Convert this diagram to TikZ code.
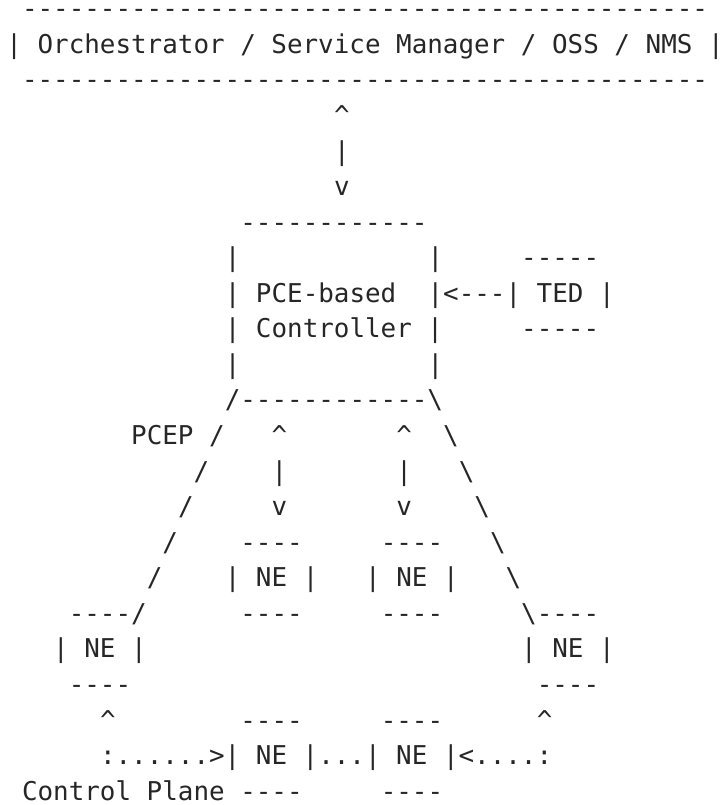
\documentclass[tikz,border=0pt]{standalone}
\usepackage{fontspec}
\setmonofont{DejaVu Sans Mono}
\definecolor{asciigray}{HTML}{262626}

\tikzset{
    asc/.style={anchor=base west, inner sep=0pt, text=asciigray,
        font=\ttfamily\fontsize{25.9}{30}\selectfont}
}
% one piece of the figure: name, column, row, characters
\newcommand{\asc}[4]{%
    \node[asc] (#1) at (#2,#3) {#4};
}
\newcommand{\dashes}[1]{\foreach \i in {1,...,#1}{-}}
\newcommand{\up}{\textasciicircum}
\newcommand{\bs}{\textbackslash}

\begin{document}
\begin{tikzpicture}[x=15.6pt, y=-35.56pt]
    \useasboundingbox (-6.2pt,17.8pt) rectangle (715.8pt,-787.2pt);

    % orchestrator box and its link down
    \asc{omstop}{1}{0}{\dashes{44}}
    \asc{oms}{0}{1}{| Orchestrator / Service Manager / OSS / NMS |}
    \asc{omsbot}{1}{2}{\dashes{44}}
    \asc{nbiup}{21}{3}{\up}
    \asc{nbi}{21}{4}{|}
    \asc{nbidown}{21}{5}{v}

    % controller with the TED
    \asc{pcetop}{15}{6}{\dashes{12}}
    \asc{pceleftA}{14}{7}{|}
    \asc{pcerightA}{27}{7}{|}
    \asc{tedtop}{33}{7}{\dashes{5}}
    \asc{pcename}{14}{8}{| PCE-based}
    \asc{ted}{27}{8}{|<---| TED |}
    \asc{pcectl}{14}{9}{| Controller |}
    \asc{tedbot}{33}{9}{\dashes{5}}
    \asc{pceleftB}{14}{10}{|}
    \asc{pcerightB}{27}{10}{|}
    \asc{pcebot}{14}{11}{/\dashes{12}\bs}

    % PCEP sessions
    \asc{pcep}{8}{12}{PCEP /}
    \asc{lupA}{17}{12}{\up}
    \asc{rupA}{25}{12}{\up}
    \asc{rdiagA}{28}{12}{\bs}
    \asc{ldiagB}{12}{13}{/}
    \asc{llinkB}{17}{13}{|}
    \asc{rlinkB}{25}{13}{|}
    \asc{rdiagB}{29}{13}{\bs}
    \asc{ldiagC}{11}{14}{/}
    \asc{ldownC}{17}{14}{v}
    \asc{rdownC}{25}{14}{v}
    \asc{rdiagC}{30}{14}{\bs}
    \asc{ldiagD}{10}{15}{/}
    \asc{neAtop}{15}{15}{\dashes{4}}
    \asc{neBtop}{24}{15}{\dashes{4}}
    \asc{rdiagD}{31}{15}{\bs}
    \asc{ldiagE}{9}{16}{/}
    \asc{neA}{14}{16}{| NE |}
    \asc{neB}{23}{16}{| NE |}
    \asc{rdiagE}{32}{16}{\bs}

    % network elements
    \asc{neLtop}{4}{17}{\dashes{4}/}
    \asc{neAbot}{15}{17}{\dashes{4}}
    \asc{neBbot}{24}{17}{\dashes{4}}
    \asc{neRtop}{33}{17}{\bs\dashes{4}}
    \asc{neL}{3}{18}{| NE |}
    \asc{neR}{33}{18}{| NE |}
    \asc{neLbot}{4}{19}{\dashes{4}}
    \asc{neRbot}{34}{19}{\dashes{4}}
    \asc{neLup}{6}{20}{\up}
    \asc{neCtop}{15}{20}{\dashes{4}}
    \asc{neDtop}{24}{20}{\dashes{4}}
    \asc{neRup}{34}{20}{\up}
    \asc{plane}{6}{21}{:......>| NE |...| NE |<....:}
    \asc{neCbot}{1}{22}{Control Plane \dashes{4}}
    \asc{neDbot}{24}{22}{\dashes{4}}
\end{tikzpicture}
\end{document}
